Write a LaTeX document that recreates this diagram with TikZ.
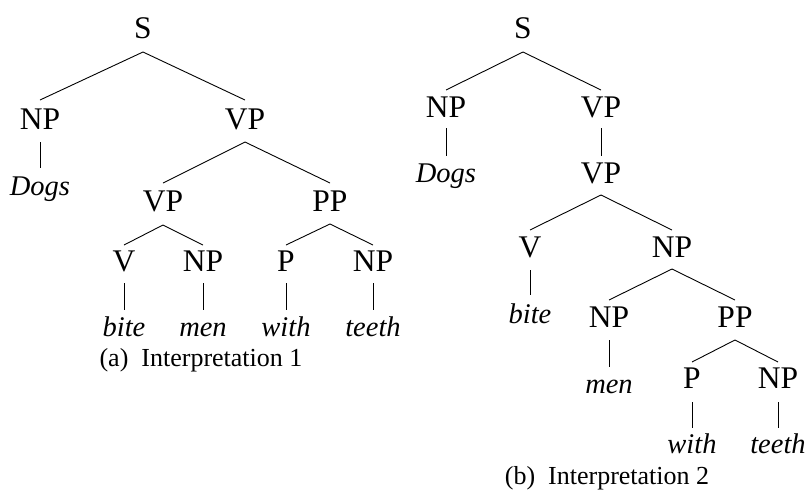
\documentclass[tikz,border=0pt]{standalone}
\usepackage{fontspec}
\setmainfont{Liberation Serif}
\usetikzlibrary{calc}
\begin{document}
\begin{tikzpicture}[x=1pt,y=-1pt,
  lab/.style={anchor=base,inner sep=0pt,font=\fontsize{31.5}{36}\selectfont},
  wrd/.style={anchor=base,inner sep=0pt,font=\fontsize{28.5}{34}\selectfont\itshape},
  capt/.style={anchor=base,inner sep=0pt,font=\fontsize{26}{30}\selectfont},
  br/.style={line width=0.9pt}]
\useasboundingbox (0,0) rectangle (807,491);
\newcommand\treeedge[4]{\draw[br] ($(#1.base)+(0,#2)$) -- ($(#3.base)+(0,#4)$);}
% ---------- tree (a)
\node[lab] (aS)   at (143,38)  {S};
\node[lab] (aNP)  at (40,129)  {NP};
\node[lab] (aVP)  at (245,129) {VP};
\node[wrd] (aDogs) at (40,195) {Dogs};
\node[lab] (aVP2) at (163,211) {VP};
\node[lab] (aPP)  at (330,211) {PP};
\node[lab] (aV)   at (124,271) {V};
\node[lab] (aNP2) at (203,271) {NP};
\node[lab] (aP)   at (286,271) {P};
\node[lab] (aNP3) at (373,271) {NP};
\node[wrd] (abite) at (124,336) {bite};
\node[wrd] (amen)  at (203,336) {men};
\node[wrd] (awith) at (286,336) {with};
\node[wrd] (ateeth) at (373,336) {teeth};
\node[capt] (acap) at (201,366) {(a)\enspace Interpretation 1};
\treeedge{aS}{14}{aNP}{-29}
\treeedge{aS}{14}{aVP}{-29}
\treeedge{aNP}{13}{aDogs}{-27}
\treeedge{aVP}{13}{aVP2}{-28}
\treeedge{aVP}{13}{aPP}{-28}
\treeedge{aVP2}{14}{aV}{-26}
\treeedge{aVP2}{14}{aNP2}{-26}
\treeedge{aPP}{13}{aP}{-26}
\treeedge{aPP}{13}{aNP3}{-26}
\treeedge{aV}{12}{abite}{-26}
\treeedge{aNP2}{12}{amen}{-26}
\treeedge{aP}{12}{awith}{-26}
\treeedge{aNP3}{12}{ateeth}{-26}
% ---------- tree (b)
\node[lab] (bS)   at (523,38)  {S};
\node[lab] (bNP)  at (446,117) {NP};
\node[lab] (bVP)  at (601,117) {VP};
\node[wrd] (bDogs) at (446,182) {Dogs};
\node[lab] (bVP2) at (601,183) {VP};
\node[lab] (bV)   at (530,257) {V};
\node[lab] (bNP2) at (672,257) {NP};
\node[wrd] (bbite) at (530,323) {bite};
\node[lab] (bNP3) at (609,327) {NP};
\node[lab] (bPP)  at (735,327) {PP};
\node[wrd] (bmen) at (609,393) {men};
\node[lab] (bP)   at (692,388) {P};
\node[lab] (bNP4) at (778,388) {NP};
\node[wrd] (bwith) at (692,453) {with};
\node[wrd] (bteeth) at (778,453) {teeth};
\node[capt] (bcap) at (607,484) {(b)\enspace Interpretation 2};
\treeedge{bS}{14}{bNP}{-27}
\treeedge{bS}{14}{bVP}{-27}
\treeedge{bNP}{11}{bDogs}{-26}
\treeedge{bVP}{11}{bVP2}{-27}
\treeedge{bVP2}{12}{bV}{-27}
\treeedge{bVP2}{12}{bNP2}{-27}
\treeedge{bV}{13}{bbite}{-28}
\treeedge{bNP2}{12}{bNP3}{-27}
\treeedge{bNP2}{12}{bPP}{-27}
\treeedge{bNP3}{13}{bmen}{-26}
\treeedge{bPP}{13}{bP}{-26}
\treeedge{bPP}{13}{bNP4}{-26}
\treeedge{bP}{14}{bwith}{-25}
\treeedge{bNP4}{14}{bteeth}{-25}
\end{tikzpicture}
\end{document}
